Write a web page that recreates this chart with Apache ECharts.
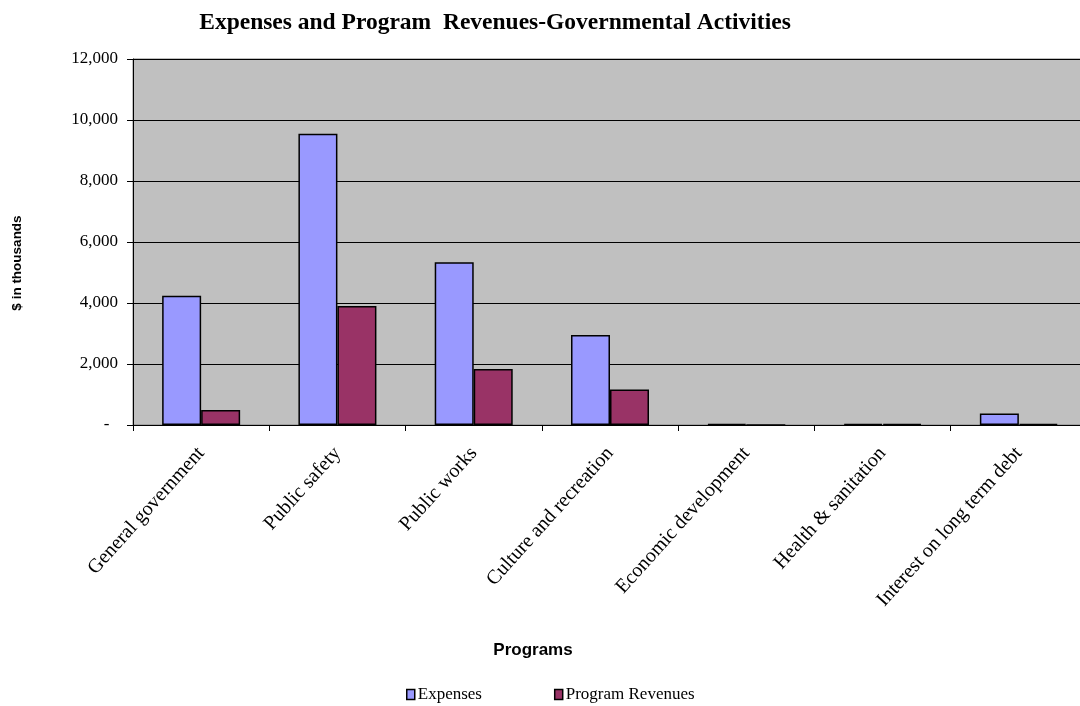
<!DOCTYPE html>
<html>
<head>
<meta charset="utf-8">
<script src="https://cdn.jsdelivr.net/npm/echarts@6/dist/echarts.min.js"></script>
<style>html,body{margin:0;padding:0;background:#fff;overflow:hidden;width:1080px;height:706px;}#c{width:1090px;height:706px;}</style>
</head>
<body>
<div id="c"></div>
<script>
var categories = ["General government", "Public safety", "Public works", "Culture and recreation", "Economic development", "Health & sanitation", "Interest on long term debt"];
var expenses = [4240, 9550, 5340, 2950, 40, 40, 380];
var programRevenues = [490, 3900, 1840, 1160, 0, 40, 40];
var yTicks = [0, 2000, 4000, 6000, 8000, 10000, 12000];

var chart = echarts.init(document.getElementById('c'), null, {renderer: 'canvas'});
var serif = '"Liberation Serif", "Times New Roman", serif';
var sans = '"Liberation Sans", Arial, sans-serif';
chart.setOption({
  animation: false,
  title: {
    text: 'Expenses and Program  Revenues-Governmental Activities',
    left: 490, top: 6, textAlign: 'center',
    textStyle: {fontFamily: serif, fontWeight: 'bold', fontSize: 23.5, color: '#000'}
  },
  legend: {
    top: 681, left: 401, itemGap: 72,
    itemWidth: 8, itemHeight: 10, icon: 'rect',
    itemStyle: {borderColor: '#000', borderWidth: 1.5},
    textStyle: {fontFamily: serif, fontSize: 17, color: '#000', padding: [0,0,0,-2]},
    data: ['Expenses', 'Program Revenues']
  },
  grid: {left: 133, width: 954, top: 59, height: 366, backgroundColor: '#C0C0C0', show: true, borderColor: '#808080', borderWidth: 1},
  xAxis: {
    type: 'category', data: categories,
    axisLine: {lineStyle: {color: '#000', width: 1}},
    axisTick: {show: true, length: 6, lineStyle: {color: '#000'}},
    axisLabel: {rotate: 48, interval: 0, margin: 25, fontFamily: serif, fontSize: 20, color: '#000'}
  },
  yAxis: {
    type: 'value', min: 0, max: 12000, interval: 2000,
    axisLine: {show: true, lineStyle: {color: '#000'}},
    axisTick: {show: true, length: 6, lineStyle: {color: '#000'}},
    splitLine: {lineStyle: {color: '#000', width: 1}},
    axisLabel: {
      margin: 15, fontFamily: serif, fontSize: 17, color: '#000',
      formatter: function (v) { return v === yTicks[0] ? '-\u00a0\u00a0' : v.toLocaleString('en-US'); }
    }
  },
  graphic: [{
    type: 'text', x: 17, y: 263, rotation: Math.PI / 2,
    style: {text: '$ in thousands', fontFamily: sans, fontWeight: 'bold', fontSize: 13.5, fill: '#000', align: 'center', verticalAlign: 'middle'}
  }, {
    type: 'text', x: 533, y: 650,
    style: {text: 'Programs', fontFamily: sans, fontWeight: 'bold', fontSize: 17, fill: '#000', align: 'center', verticalAlign: 'middle'}
  }],
  series: [
    {name: 'Expenses', type: 'bar', data: expenses, barWidth: 39, barGap: '0%',
     itemStyle: {color: '#9999FF', borderColor: '#000', borderWidth: 1.5}},
    {name: 'Program Revenues', type: 'bar', data: programRevenues, barWidth: 39, barGap: '0%',
     itemStyle: {color: '#993366', borderColor: '#000', borderWidth: 1.5}}
  ]
});
</script>
</body>
</html>
